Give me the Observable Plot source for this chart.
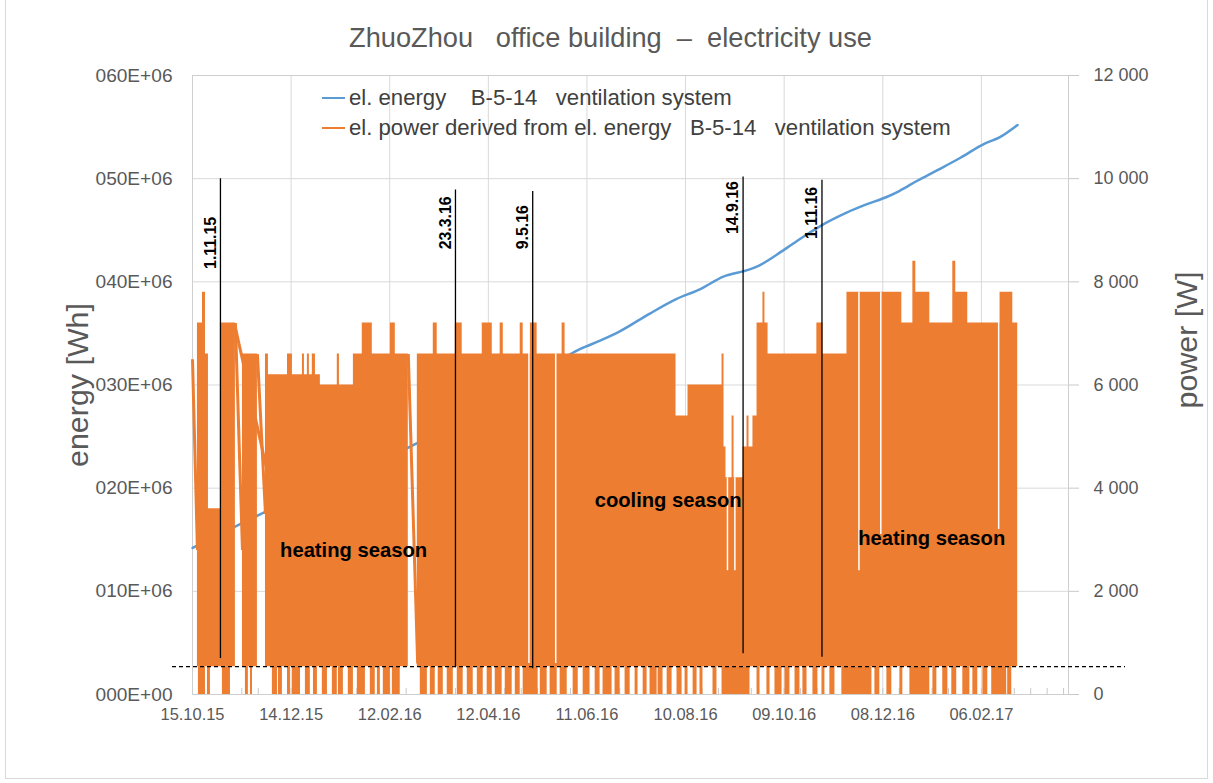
<!DOCTYPE html>
<html>
<head>
<meta charset="utf-8">
<script src="https://cdn.jsdelivr.net/npm/d3@7"></script>
<script src="https://cdn.jsdelivr.net/npm/@observablehq/plot@0.6"></script>
<style>
  html, body { margin: 0; padding: 0; background: #fff; }
  #wrap { position: relative; width: 1213px; height: 783px; overflow: hidden; }
  #border { position: absolute; left: 5px; top: -2px; width: 1203px; height: 781px; border: 1px solid #d9d9d9; box-sizing: border-box; }
  #chart { position: absolute; left: 0; top: 0; }
  #title { position: absolute; left: 0; width: 1221px; text-align: center; white-space: pre; color: #595959; line-height: 1; }
  #legend { position: absolute; left: 322px; top: 83px; }
  .lg { display: flex; align-items: center; height: 30px; white-space: pre; color: #404040; }
  .sw { width: 23px; height: 2.5px; margin-right: 4px; }
  .ytitle { position: absolute; transform: translate(-50%, -50%) rotate(-90deg); white-space: pre; color: #595959; line-height: 1; }
  #chart g[aria-label="y-axis tick"], #chart g[aria-label="x-axis tick"] { color: #c8c8c8; }
  #chart g[aria-label="y-axis tick label"], #chart g[aria-label="x-axis tick label"] { color: #595959; }
</style>
</head>
<body>
<div id="wrap">
  <div id="border"></div>
  <div id="chart"></div>
  <div id="title"></div>
  <div id="legend"></div>
  <div id="ytl" class="ytitle"></div>
  <div id="ytr" class="ytitle"></div>
</div>
<script>
// ---------------- data ----------------
const titleText = "ZhuoZhou   office building  \u2013  electricity use";
const legendLabels = ["el. energy    B-5-14   ventilation system",
                      "el. power derived from el. energy   B-5-14   ventilation system"];
const legendColors = ["#5B9BD5", "#ED7D31"];
const leftTitle = "energy [Wh]";
const rightTitle = "power [W]";

const startDate = Date.UTC(2015, 9, 15);   // day 0 = 15.10.15
const endDayOffset = 533;                   // right edge of the x axis

const xTickLabels = ["15.10.15","14.12.15","12.02.16","12.04.16","11.06.16","10.08.16","09.10.16","08.12.16","06.02.17"];
const energyTicks = [0, 10e6, 20e6, 30e6, 40e6, 50e6, 60e6];
const energyTickLabels = ["000E+00","010E+06","020E+06","030E+06","040E+06","050E+06","060E+06"];
const powerTicks = [0, 2000, 4000, 6000, 8000, 10000, 12000];
const powerTickLabels = ["0","2 000","4 000","6 000","8 000","10 000","12 000"];

// blue series: el. energy [Wh] (day offset, value)
const energyDays = [0, 43, 131, 137, 204, 220, 236, 248, 260, 278, 294, 309, 323, 339, 345, 359, 371, 382, 398, 410, 422, 430, 441, 453, 467, 482, 491, 502];
const energyWh   = [14.2e6, 17.6e6, 23.9e6, 24.4e6, 31.1e6, 32.1e6, 33.5e6, 34.3e6, 35.2e6, 36.9e6, 38.3e6, 39.3e6, 40.5e6, 41.2e6, 41.6e6, 43.0e6, 44.3e6, 45.4e6, 46.7e6, 47.5e6, 48.2e6, 48.8e6, 49.8e6, 50.8e6, 52.0e6, 53.4e6, 54.0e6, 55.2e6];

// orange series: upper level of the derived power [W] per period (day offsets)
const segFrom = [3.0, 6.1, 7.9, 9.7, 17.0, 30.4, 44.4, 46.2, 57.8, 60.8, 66.9, 68.1, 69.9, 71.1, 72.9, 74.8, 77.8, 88.1, 89.4, 97.9,
                 103.3, 109.4, 120.4, 123.4, 136.8, 146.5, 148.9, 159.9, 164.1, 176.3, 182.4, 187.2, 189.1, 199.4, 201.2, 205.5, 209.7, 224.9, 226.7,
                 294.2, 301.5, 322.2, 323.4, 324.6, 328.3, 329.5, 335.0, 337.4, 338.6, 341.0, 343.5, 347.1, 348.3, 350.2, 379.9, 383.6,
                 398.2, 431.6, 438.3, 440.1, 448.6, 462.6, 464.4, 471.7, 491.2, 499.1];
const segTo   = [6.1, 7.9, 9.7, 17.0, 26.1, 39.5, 46.2, 57.8, 60.8, 66.9, 68.1, 69.9, 71.1, 72.9, 74.8, 77.8, 88.1, 89.4, 97.9, 103.3,
                 109.4, 120.4, 123.4, 131.3, 146.5, 148.9, 159.9, 164.1, 176.3, 182.4, 187.2, 189.1, 199.4, 201.2, 205.5, 209.7, 224.9, 226.7, 294.2,
                 301.5, 322.2, 323.4, 324.6, 328.3, 329.5, 335.0, 337.4, 338.6, 341.0, 343.5, 347.1, 348.3, 350.2, 379.9, 383.6, 398.2,
                 431.6, 438.3, 440.1, 448.6, 462.6, 464.4, 471.7, 491.2, 499.1, 502.1];
const segW    = [7200, 7800, 6600, 3600, 7200, 6600, 6600, 6200, 6600, 6200, 6600, 6200, 6600, 6200, 6600, 6200, 6000, 6600, 6000, 6600,
                 7200, 6600, 7200, 6600, 6600, 7200, 6600, 7200, 6600, 7200, 6600, 7200, 6600, 7200, 6600, 7200, 6600, 7200, 6600,
                 5400, 6000, 6600, 4800, 4200, 5400, 4200, 4800, 5400, 4800, 5400, 7200, 7800, 7200, 6600, 7200, 6600,
                 7800, 7200, 8400, 7800, 7200, 8400, 7800, 7200, 7800, 7200];

// periods where the derived power drops to zero (day offsets)
const dropFrom = [3.6, 9.1, 18.2, 32.2, 35.3, 48.6, 52.3, 57.8, 60.8, 68.7, 73.6, 79.0, 85.1, 88.8, 94.8, 100.3, 108.2, 112.5, 116.1, 121.6,
                  138.6, 144.7, 149.5, 155.0, 161.1, 167.2, 173.3, 179.3, 184.2, 190.3, 196.4, 201.2, 211.6, 217.6, 223.7, 231.6, 237.7, 245.0, 249.8, 257.1,
                  263.2, 269.3, 274.2, 278.4, 283.3, 288.8, 294.8, 299.7, 304.6, 308.8, 316.7, 322.2, 343.5, 349.5, 354.4, 360.5, 366.6, 371.4, 377.5, 383.0,
                  387.8, 395.1, 415.2, 422.5, 430.4, 436.5, 450.5, 456.5, 462.0, 468.7, 474.8, 480.9, 486.3, 496.0];
const dropTo   = [7.9, 10.9, 23.1, 34.0, 36.5, 51.7, 54.7, 59.6, 65.7, 71.7, 76.0, 82.1, 88.1, 91.8, 97.9, 105.2, 111.2, 114.3, 120.4, 126.4,
                  142.9, 147.7, 152.6, 158.7, 164.7, 170.8, 176.9, 182.4, 188.4, 194.5, 199.4, 210.3, 215.8, 221.9, 228.0, 234.7, 241.9, 248.0, 255.3, 260.2,
                  266.3, 271.1, 276.6, 282.7, 286.3, 291.8, 297.9, 301.5, 307.0, 310.6, 319.1, 339.2, 345.3, 351.4, 358.7, 363.5, 369.6, 373.9, 380.5, 384.8,
                  390.9, 413.4, 418.2, 425.5, 432.2, 448.6, 452.9, 459.6, 465.0, 473.0, 477.8, 483.9, 495.4, 498.5];

// sloped jumps of the orange series (day, W) -> (day, W)
const slopeFromDay = [0, 26.1, 25.5, 39.5, 131.3];
const slopeFromW   = [6500, 7200, 7200, 6600, 6600];
const slopeToDay   = [3.0, 30.4, 45.6, 44.4, 137.0];
const slopeToW     = [2800, 2800, 4300, 3500, 600];

// short missing readings inside the orange area (day, from W, to W)
const gapDay  = [204.7, 221.0, 325.5, 330.0, 405.5, 418.8, 490.5];
const gapTopW = [7200, 6600, 4200, 4200, 7800, 7800, 7800];
const gapBotW = [600, 600, 2400, 2400, 2400, 3100, 3200];

const thresholdW = 540;   // dashed line

// marked dates
const markDates  = ["2015-11-01", "2016-03-23", "2016-05-09", "2016-09-14", "2016-11-01"];
const markLabels = ["1.11.15", "23.3.16", "9.5.16", "14.9.16", "1.11.16"];
const markTopW   = [10000, 9780, 9750, 10030, 9970];
const markBotW   = [700, 520, 500, 790, 720];
const markLabelW = [8250, 8630, 8630, 8925, 8830];

// season annotations
const seasonText = ["heating season", "cooling season", "heating season"];
const seasonDay  = [98, 289.4, 449.8];
const seasonW    = [2790, 3756, 3020];

// ---------------- helpers ----------------
const D = d => new Date(startDate + d * 864e5);
const parseLbl = s => { const [dd, mm, yy] = s.split("."); return new Date(Date.UTC(2000 + +yy, +mm - 1, +dd)); };
const ratio = energyTicks[energyTicks.length - 1] / powerTicks[powerTicks.length - 1];

const ctx = document.createElement("canvas").getContext("2d");
function has(f) {
  ctx.font = "50px monospace"; const a = ctx.measureText("060E+06 wmlkQ").width;
  ctx.font = `50px "${f}", monospace`; return Math.abs(ctx.measureText("060E+06 wmlkQ").width - a) > 0.5;
}
const FAM = has("Liberation Sans Narrow")
  ? '"Liberation Sans Narrow", "Liberation Sans", Arial, sans-serif'
  : '"Liberation Sans", Arial, sans-serif';
function fit(t, w, wt = "normal", fam = FAM) {
  ctx.font = `${wt} 100px ${fam}`;
  return +(100 * w / ctx.measureText(t).width).toFixed(2);
}

const fsLeft = fit("060E+06", 77);
const fsRight = fit("12 000", 55);
const fsX = fit("15.10.15", 64);
const fsTitle = fit(titleText, 523);
const fsLegend = fit(legendLabels[1], 602);
const fsAxisTitle = fit(leftTitle, 164);
const fsSeason = fit(seasonText[0], 147, "bold");
const fsMark = fit(markLabels[1], 53, "bold");

// ---------------- derived tables ----------------
const energyData = energyDays.map((d, i) => ({x: D(d), y: energyWh[i] / ratio}));

const areaPts = [];
segFrom.forEach((f, i) => {
  areaPts.push({x: D(f), y1: thresholdW, y2: segW[i]});
  const next = segFrom[i + 1];
  if (next === undefined || next !== segTo[i]) {
    areaPts.push({x: D(segTo[i]), y1: thresholdW, y2: segW[i]});
    areaPts.push({x: D(segTo[i]), y1: NaN, y2: NaN});
  }
});
const drops = dropFrom.map((f, i) => ({x1: D(f), x2: D(dropTo[i]), y1: 0, y2: thresholdW}));
const slopes = slopeFromDay.map((d, i) => ({x1: D(d), y1: slopeFromW[i], x2: D(slopeToDay[i]), y2: slopeToW[i]}));
const gaps = gapDay.map((d, i) => ({x: D(d), y1: gapBotW[i], y2: gapTopW[i]}));
const marks = markDates.map((s, i) => ({x: new Date(s), y1: markBotW[i], y2: markTopW[i], ly: markLabelW[i], t: markLabels[i]}));
const seasons = seasonText.map((t, i) => ({x: D(seasonDay[i]), y: seasonW[i], t}));
const xTicks = xTickLabels.map(parseLbl);
const minorTicks = d3.range(0, endDayOffset, 10).map(D);

const W = 1213, H = 783, mL = 192, mR = 145, mT = 75, mB = 89;
const plotH = H - mT - mB;

const chart = Plot.plot({
  width: W, height: H,
  marginLeft: mL, marginRight: mR, marginTop: mT, marginBottom: mB,
  x: {type: "utc", domain: [D(0), D(endDayOffset)]},
  y: {domain: [0, powerTicks[powerTicks.length - 1]]},
  style: {fontFamily: FAM, background: "transparent", overflow: "visible"},
  marks: [
    Plot.ruleY(powerTicks, {stroke: "#d9d9d9", strokeWidth: 1}),
    Plot.ruleX(xTicks, {stroke: "#d9d9d9", strokeWidth: 1}),
    Plot.ruleX(minorTicks, {stroke: "#c8c8c8", insetTop: plotH - 6}),
    Plot.frame({stroke: "#cfcfcf"}),
    Plot.line(energyData, {x: "x", y: "y", stroke: legendColors[0], strokeWidth: 2.5, curve: "monotone-x"}),
    Plot.area(areaPts, {x1: "x", y1: "y1", y2: "y2", curve: "step-after", fill: legendColors[1]}),
    Plot.rect(drops, {x1: "x1", x2: "x2", y1: "y1", y2: "y2", fill: legendColors[1]}),
    Plot.link(slopes, {x1: "x1", y1: "y1", x2: "x2", y2: "y2", stroke: legendColors[1], strokeWidth: 3}),
    Plot.ruleX(gaps, {x: "x", y1: "y1", y2: "y2", stroke: "#fff", strokeWidth: 1.5}),
    Plot.ruleY([thresholdW], {stroke: "#000", strokeWidth: 1.2, strokeDasharray: "4,3", insetLeft: -20, insetRight: -57}),
    Plot.ruleX(marks, {x: "x", y1: "y1", y2: "y2", stroke: "#000", strokeWidth: 1.3}),
    Plot.text(marks, {x: "x", y: "ly", text: "t", rotate: -90, textAnchor: "start", dx: -10, fill: "#000", fontWeight: "bold", fontSize: fsMark, fontFamily: FAM}),
    Plot.text(seasons, {x: "x", y: "y", text: "t", fill: "#000", fontWeight: "bold", fontSize: fsSeason, fontFamily: FAM}),
    Plot.axisY({anchor: "left", ticks: energyTicks.map(e => e / ratio),
      tickFormat: d => energyTickLabels[energyTicks.indexOf(Math.round(d * ratio))],
      tickSize: 0, tickPadding: 20, fontSize: fsLeft, label: null}),
    Plot.axisY({anchor: "right", ticks: powerTicks,
      tickFormat: d => powerTickLabels[powerTicks.indexOf(d)],
      tickSize: 10, tickPadding: 15, fontSize: fsRight, label: null}),
    Plot.axisX({ticks: xTicks,
      tickFormat: d => xTickLabels[xTicks.findIndex(t => +t === +d)],
      tickSize: 0, tickPadding: 14, fontSize: fsX, label: null})
  ]
});
document.getElementById("chart").appendChild(chart);

// title
const title = document.getElementById("title");
title.textContent = titleText;
title.style.fontFamily = FAM;
title.style.fontSize = fsTitle + "px";
title.style.top = (38 - fsTitle * 0.5) + "px";

// legend
const legend = document.getElementById("legend");
legendLabels.forEach((t, i) => {
  const row = document.createElement("div");
  row.className = "lg";
  row.style.fontFamily = FAM;
  row.style.fontSize = fsLegend + "px";
  const sw = document.createElement("div");
  sw.className = "sw";
  sw.style.background = legendColors[i];
  const tx = document.createElement("span");
  tx.textContent = t;
  row.appendChild(sw); row.appendChild(tx);
  legend.appendChild(row);
});

// axis titles
const ytl = document.getElementById("ytl");
ytl.textContent = leftTitle;
Object.assign(ytl.style, {left: "77px", top: "385px", fontFamily: FAM, fontSize: fsAxisTitle + "px"});
const ytr = document.getElementById("ytr");
ytr.textContent = rightTitle;
Object.assign(ytr.style, {left: "1186px", top: "340px", fontFamily: FAM, fontSize: fsAxisTitle + "px"});
</script>
</body>
</html>
